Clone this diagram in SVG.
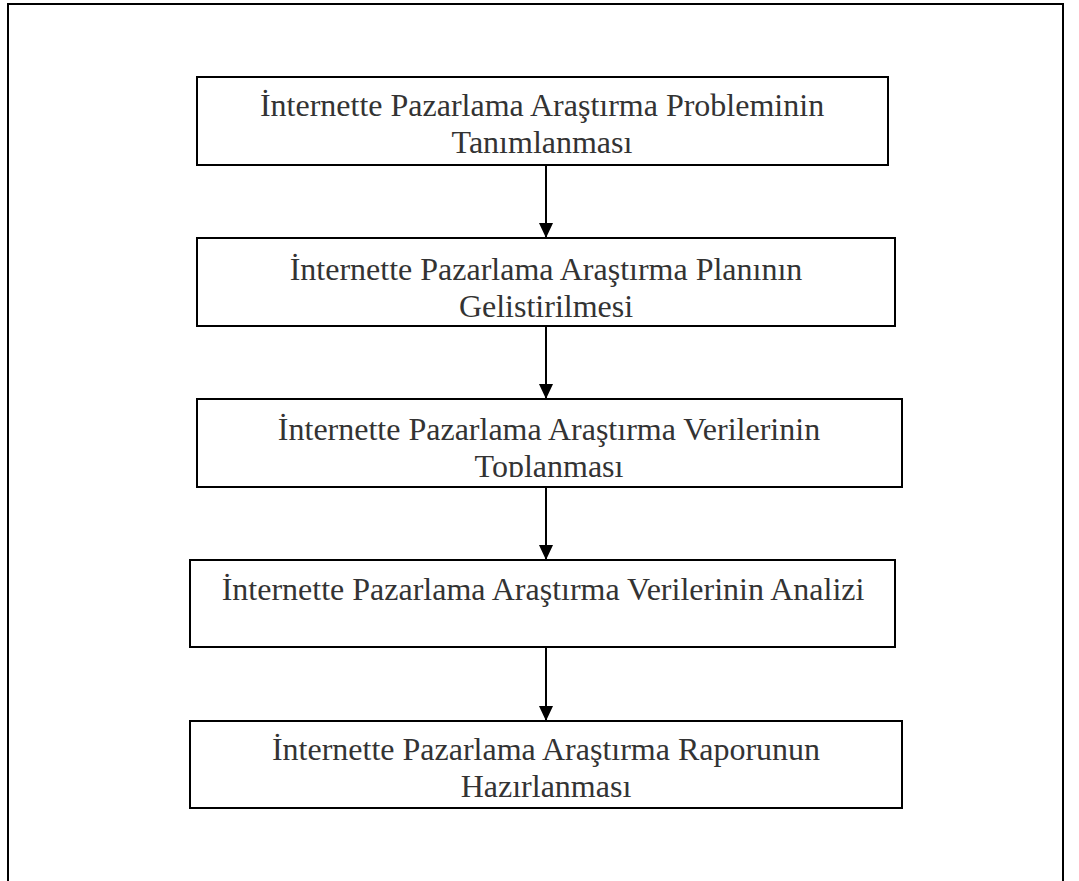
<svg xmlns="http://www.w3.org/2000/svg" width="1079" height="881" viewBox="0 0 1079 881">
<defs>
<style>
.box{fill:#fff;stroke:#000;stroke-width:2}
.lbl{font-family:"Liberation Serif","Times New Roman",serif;font-size:32px;fill:#333;text-anchor:middle}
.conn{stroke:#000;stroke-width:2;fill:none}
</style>
<marker id="ah" viewBox="0 0 15 14" refX="15" refY="7" markerWidth="15" markerHeight="14" markerUnits="userSpaceOnUse" orient="auto">
<path d="M0,0 L15,7 L0,14 Z" fill="#000"/>
</marker>
<clipPath id="clip3"><rect x="190" y="399" width="720" height="78"/></clipPath>
</defs>
<rect x="8" y="4" width="1055" height="900" fill="none" stroke="#000" stroke-width="2"/>
<g id="connectors">
<line class="conn" x1="546" y1="165" x2="546" y2="238" marker-end="url(#ah)"/>
<line class="conn" x1="546" y1="326" x2="546" y2="399" marker-end="url(#ah)"/>
<line class="conn" x1="546" y1="487" x2="546" y2="560" marker-end="url(#ah)"/>
<line class="conn" x1="546" y1="647" x2="546" y2="721" marker-end="url(#ah)"/>
</g>
<g id="node1">
<rect class="box" x="197" y="77" width="691" height="88"/>
<text class="lbl" x="542" y="116">İnternette Pazarlama Araştırma Probleminin</text>
<text class="lbl" x="542" y="153">Tanımlanması</text>
</g>
<g id="node2">
<rect class="box" x="197" y="238" width="698" height="88"/>
<text class="lbl" x="546" y="280">İnternette Pazarlama Araştırma Planının</text>
<text class="lbl" x="546" y="317">Gelistirilmesi</text>
</g>
<g id="node3">
<rect class="box" x="197" y="399" width="705" height="88"/>
<g clip-path="url(#clip3)">
<text class="lbl" x="549" y="440">İnternette Pazarlama Araştırma Verilerinin</text>
<text class="lbl" x="549" y="477">Toplanması</text>
</g>
</g>
<g id="node4">
<rect class="box" x="190" y="560" width="705" height="87"/>
<text class="lbl" x="543" y="600">İnternette Pazarlama Araştırma Verilerinin Analizi</text>
</g>
<g id="node5">
<rect class="box" x="190" y="721" width="712" height="87"/>
<text class="lbl" x="546" y="760">İnternette Pazarlama Araştırma Raporunun</text>
<text class="lbl" x="546" y="797">Hazırlanması</text>
</g>
</svg>
